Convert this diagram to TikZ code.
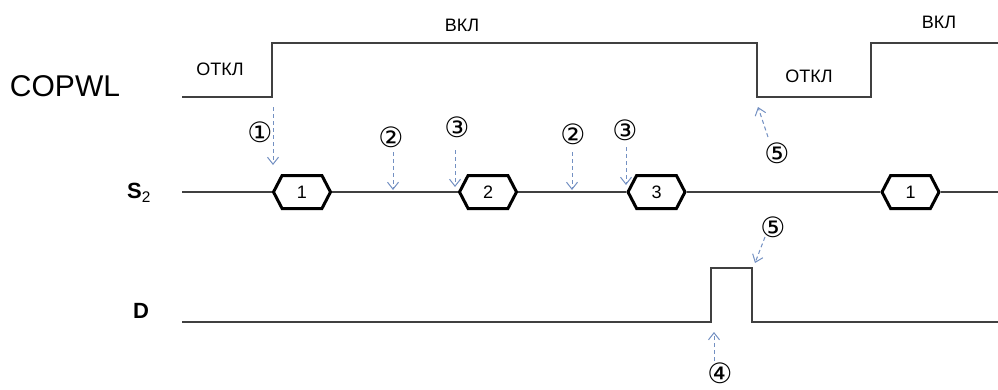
\documentclass[tikz,border=0pt]{standalone}
\usepackage{fontspec}
\setmainfont{Liberation Sans}
\newfontfamily\circfont{DejaVu Sans}
\usetikzlibrary{arrows.meta,shapes.symbols}
\definecolor{sinyalGri}{HTML}{404040}
\definecolor{okMavi}{HTML}{7390C2}
\begin{document}
\begin{tikzpicture}[x=1pt,y=-1pt,
  wave/.style={sinyalGri,line width=1.3pt},
  hexbox/.style={draw=black,line width=3pt,fill=white,signal,signal to=east and west,
    signal pointer angle=125,minimum width=57pt,minimum height=33pt,inner sep=0pt,
    font=\fontsize{18}{18}\selectfont},
  cue/.style={okMavi,line width=1pt,dash pattern=on 4pt off 3pt,
    -{Straight Barb[length=7pt,width=11pt]}},
  circ/.style={font=\circfont\fontsize{28}{28}\selectfont,inner sep=0pt},
  lvl/.style={font=\fontsize{18}{18}\selectfont}]
\useasboundingbox (0,0) rectangle (998,389);
% sinyal isimleri
\node[font=\fontsize{30}{30}\selectfont] (copwl) at (65,86) {COPWL};
\node[font=\fontsize{22}{22}\selectfont\bfseries] (s2) at (139,193) {S\textsubscript{\normalfont 2}};
\node[font=\fontsize{22}{22}\selectfont\bfseries] (d) at (141,311) {D};
% COPWL dalgasi
\draw[wave] (182,97)--(272,97)--(272,43)--(757,43)--(757,97)--(871,97)--(871,43)--(998,43);
\node[lvl] (off1) at (220,69) {ОТКЛ};
\node[lvl] (on1) at (462,25) {ВКЛ};
\node[lvl] (off2) at (809,76) {ОТКЛ};
\node[lvl] (on2) at (939,22) {ВКЛ};
% S2 veri kutulari
\coordinate (s2a) at (182,192);
\coordinate (s2b) at (998,192);
\node[hexbox] (h1) at (302,192) {1};
\node[hexbox] (h2) at (488,192) {2};
\node[hexbox] (h3) at (656.5,192) {3};
\node[hexbox] (h4) at (910.5,192) {1};
\draw[wave] (s2a)--(h1.west) (h1.east)--(h2.west) (h2.east)--(h3.west)
  (h3.east)--(h4.west) (h4.east)--(s2b);
% D darbesi
\draw[wave] (182,322)--(711,322)--(711,268)--(752,268)--(752,322)--(998,322);
% numarali isaretler
\foreach \n/\t/\x/\y in {k1/①/260/132.5,k2/②/391/137,k3/③/457/127,k4/②/573/134,
  k5/③/625/130,k6/⑤/777/153,k7/⑤/773/227,k8/④/720/373}
  \node[circ] (\n) at (\x,\y) {\t};
\foreach \n/\xa/\ya/\xb/\yb in {1/273/107/273/165,2/393/152/393/190,3/455/150/455/187,
  4/572/152/572/190,5/626/147/626/185,6/768/137/758/107,7/765/237/755/263,8/714/361/714/332}
{
  \coordinate (p\n) at (\xa,\ya);
  \coordinate (q\n) at (\xb,\yb);
  \draw[cue] (p\n)--(q\n);
}
\end{tikzpicture}
\end{document}
